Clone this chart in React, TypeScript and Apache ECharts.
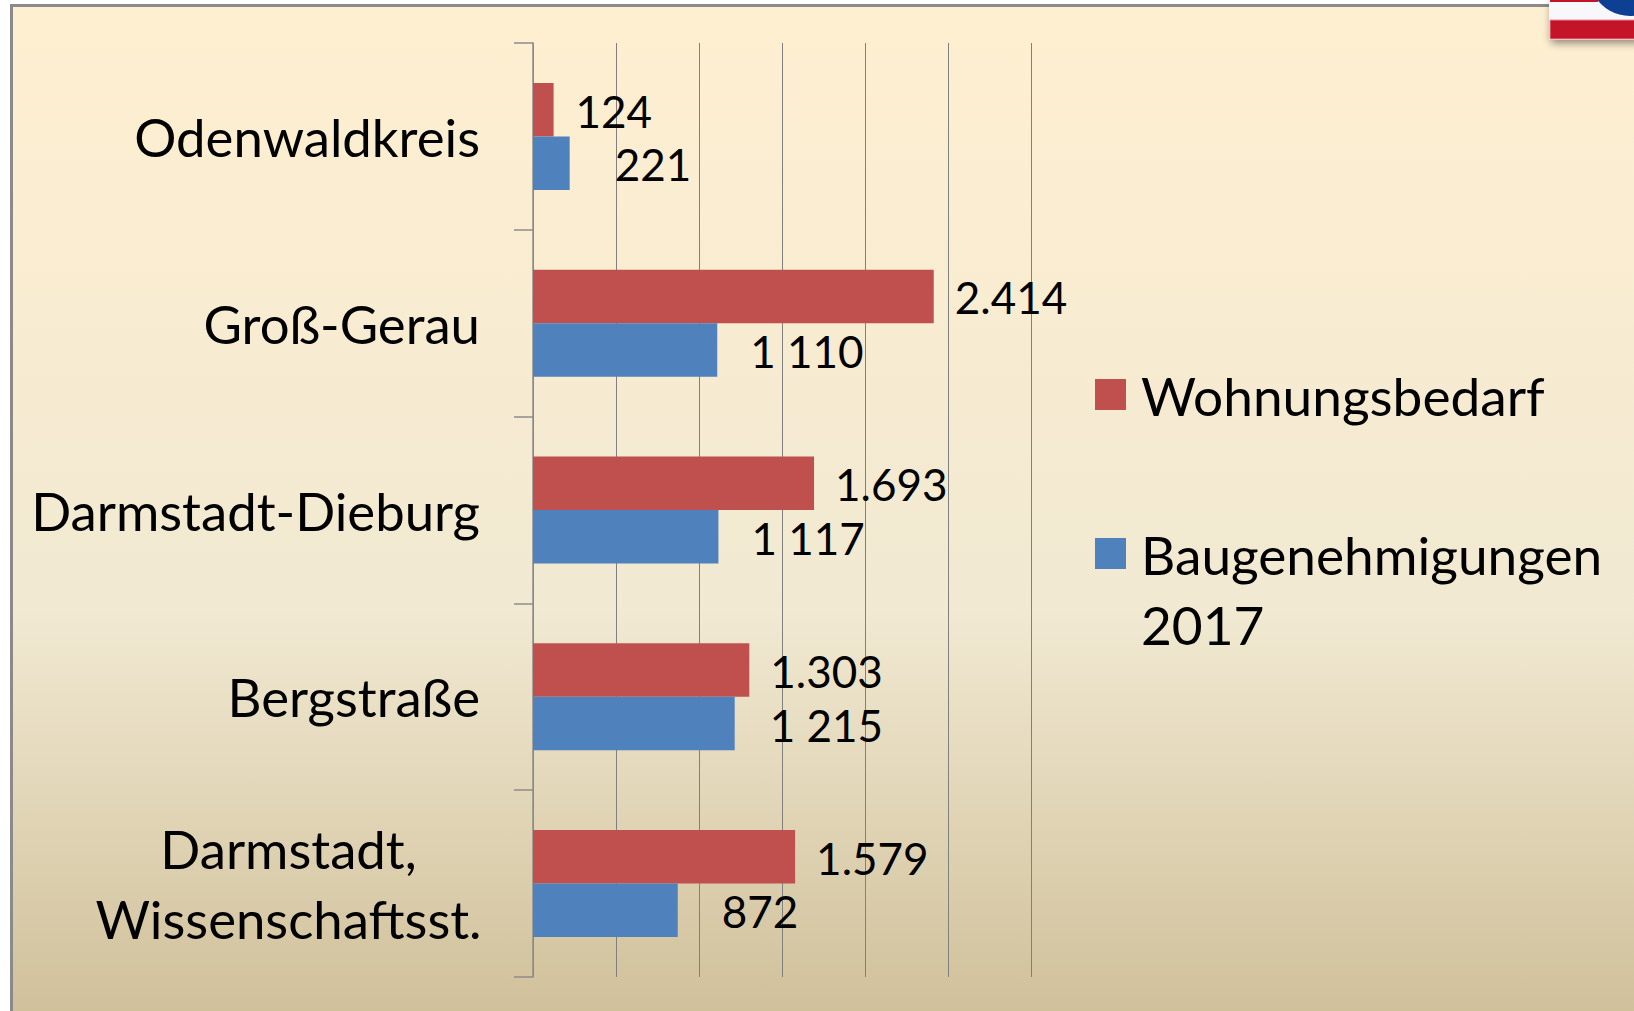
import React, { useEffect, useRef } from "react";
import * as echarts from "echarts";

const categories = ["Odenwaldkreis", "Groß-Gerau", "Darmstadt-Dieburg", "Bergstraße", "Darmstadt,\nWissenschaftsst."];
const bedarfValues = [124, 2414, 1693, 1303, 1579];
const genehmigungenValues = [221, 1110, 1117, 1215, 872];
const bedarfLabels = ["124", "2.414", "1.693", "1.303", "1.579"];
const genehmigungenLabels = ["221", "1 110", "1 117", "1 215", "872"];
const bedarfGaps = [22, 21, 21, 21, 21];
const genehmigungenGaps = [45, 33, 33, 35, 44];
const bedarfName = "Wohnungsbedarf";
const genehmigungenName = "Baugenehmigungen\n2017";

const FONT = "Lato";
const FS = 52.7;
const LEGEND_FS = 53.2;

export default function App() {
  const ref = useRef<HTMLDivElement>(null);
  useEffect(() => {
    document.body.style.margin = "0";
    document.body.style.overflow = "hidden";
    const chart = echarts.init(ref.current!, undefined, { renderer: "svg" });
    const mk = (name: string, values: number[], labels: string[], gaps: number[], color: string) => ({
      name,
      type: "bar",
      barWidth: 53.5,
      barGap: "0%",
      itemStyle: { color },
      data: values.map((v, i) => ({
        value: v,
        label: {
          show: true,
          position: "right",
          distance: gaps[i],
          offset: [0, 1],
          formatter: labels[i],
          fontFamily: FONT,
          fontSize: 44,
          color: "#000",
        },
      })),
    });
    const legendRich = {
      t: { fontFamily: FONT, fontSize: LEGEND_FS, color: "#000", lineHeight: 70, padding: [0, 0, 0, 10] },
    };
    chart.setOption({
      animation: false,
      backgroundColor: "#fff",
      grid: { left: 533, top: 43, width: 498, height: 934 },
      xAxis: {
        type: "value",
        min: 0,
        max: 3000,
        interval: 500,
        axisLabel: { show: false },
        axisLine: { show: false },
        axisTick: { show: false },
        splitLine: { show: true, lineStyle: { color: "#808080", width: 1 } },
      },
      yAxis: {
        type: "category",
        inverse: true,
        data: categories,
        axisLine: { show: true, lineStyle: { color: "#8c8c8c", width: 1.5 } },
        axisTick: { show: true, length: 19, lineStyle: { color: "#8c8c8c", width: 1.5 } },
        axisLabel: {
          margin: 53,
          fontFamily: FONT,
          fontSize: FS,
          color: "#000",
          lineHeight: 70,
          align: "right",
          formatter: (v: string) =>
            v.includes("\n") ? v.split("\n").map((s) => `{c|${s}}`).join("\n") : v,
          rich: {
            c: { fontFamily: FONT, fontSize: FS, color: "#000", lineHeight: 70, width: 383, align: "center" },
          },
        },
      },
      legend: [
        {
          data: [{ name: bedarfName, icon: "rect" }],
          left: 1090,
          top: 363,
          itemWidth: 31,
          itemHeight: 31,
          selectedMode: false,
          formatter: (n: string) => `{t|${n}}`,
          textStyle: { rich: legendRich },
        },
        {
          data: [{ name: genehmigungenName, icon: "rect" }],
          left: 1090,
          top: 452,
          itemWidth: 31,
          itemHeight: 31,
          selectedMode: false,
          formatter: (n: string) =>
            ["{t| }", ...n.split("\n").map((s) => `{t|${s}}`)].join("\n"),
          textStyle: { rich: legendRich },
        },
      ],
      graphic: [
        {
          type: "rect",
          z: -10,
          silent: true,
          shape: { x: 11.5, y: 5.5, width: 1700, height: 1100 },
          style: {
            stroke: "#8a8a8a",
            lineWidth: 3,
            fill: new echarts.graphic.LinearGradient(0, 0, 0, 1, [
              { offset: 0, color: "#FFEFD1" },
              { offset: 0.55, color: "#F1E9D2" },
              { offset: 0.92, color: "#D0C09A" },
              { offset: 1, color: "#D0C09A" },
            ]),
          },
        },
        {
          type: "group",
          silent: true,
          z: 50,
          children: [
            {
              type: "rect",
              shape: { x: 1549, y: 0, width: 90, height: 40 },
              style: { fill: "#F8F8FC", shadowBlur: 8, shadowColor: "rgba(0,0,0,0.45)", shadowOffsetX: 2, shadowOffsetY: 3 },
            },
            { type: "rect", shape: { x: 1550, y: 20, width: 90, height: 19 }, style: { fill: "#C41528", stroke: "#E88A9A", lineWidth: 1 } },
            { type: "rect", shape: { x: 1550, y: 0, width: 48, height: 2 }, style: { fill: "#C41528" } },
            { type: "circle", shape: { cx: 1630, cy: -25, r: 41 }, style: { fill: "#0D3F92" } },
          ],
        },
      ],
      series: [
        mk(bedarfName, bedarfValues, bedarfLabels, bedarfGaps, "#C0504D"),
        mk(genehmigungenName, genehmigungenValues, genehmigungenLabels, genehmigungenGaps, "#4F81BD"),
      ],
    });
    return () => chart.dispose();
  }, []);
  return <div ref={ref} style={{ width: 1634, height: 1011, position: "absolute", left: 0, top: 0 }} />;
}
